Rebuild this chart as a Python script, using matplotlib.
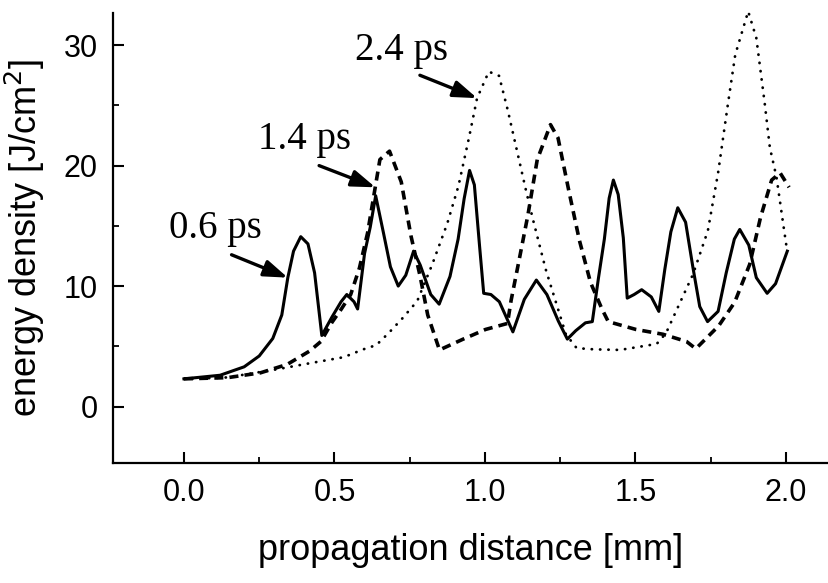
import numpy as np
import matplotlib
matplotlib.use('Agg')
import matplotlib.pyplot as plt
from matplotlib.ticker import FormatStrFormatter, MultipleLocator

# energy density along the propagation distance for three pulse durations
x_06 = [0.00, 0.12, 0.20, 0.25, 0.295, 0.325, 0.345, 0.364, 0.388, 0.412, 0.434, 0.458,
        0.491, 0.522, 0.541, 0.565, 0.577, 0.600, 0.619, 0.637, 0.663, 0.686, 0.712,
        0.737, 0.763, 0.785, 0.820, 0.848, 0.884, 0.911, 0.931, 0.949, 0.965, 0.982,
        0.996, 1.02, 1.048, 1.093, 1.131, 1.171, 1.206, 1.244, 1.274, 1.302, 1.334,
        1.357, 1.377, 1.397, 1.413, 1.427, 1.443, 1.46, 1.473, 1.496, 1.521, 1.553,
        1.578, 1.598, 1.618, 1.641, 1.667, 1.691, 1.714, 1.74, 1.775, 1.802, 1.829,
        1.847, 1.877, 1.902, 1.938, 1.966, 2.005]
y_06 = [2.3, 2.6, 3.3, 4.2, 5.65, 7.6, 10.7, 12.9, 14.1, 13.5, 11.1, 5.9,
        7.4, 8.7, 9.3, 8.7, 8.1, 12.7, 14.9, 17.5, 14.4, 11.6, 10.0,
        10.9, 12.9, 11.75, 9.3, 8.5, 10.8, 13.9, 17.25, 19.6, 18.4, 13.4,
        9.4, 9.3, 8.7, 6.2, 8.9, 10.5, 9.3, 7.1, 5.6, 6.3, 6.95,
        7.05, 10.6, 13.9, 17.3, 18.8, 17.6, 14.0, 9.0, 9.3, 9.7, 9.1,
        7.9, 11.4, 14.5, 16.5, 15.3, 11.6, 8.3, 7.05, 7.9, 11.1, 13.9,
        14.7, 13.4, 10.7, 9.4, 10.2, 12.9]

x_14 = [0.00, 0.145, 0.254, 0.343, 0.417, 0.455, 0.492, 0.523, 0.554, 0.583, 0.61,
        0.651, 0.683, 0.722, 0.754, 0.784, 0.81, 0.849, 0.928, 1.002, 1.075, 1.087,
        1.114, 1.143, 1.174, 1.218, 1.243, 1.279, 1.314, 1.351, 1.389, 1.41, 1.502,
        1.592, 1.67, 1.701, 1.777, 1.83, 1.88, 1.916, 1.953, 1.981, 2.011]
y_14 = [2.3, 2.4, 2.8, 3.5, 4.6, 5.4, 7.0, 8.1, 9.3, 11.5, 14.4,
        20.5, 21.2, 18.65, 14.2, 10.9, 7.6, 4.7, 5.6, 6.4, 6.9, 8.8,
        12.2, 15.9, 20.5, 23.4, 22.3, 17.9, 13.8, 10.3, 8.1, 7.05, 6.4,
        6.0, 5.4, 4.8, 6.7, 8.65, 11.8, 15.7, 18.8, 19.4, 18.2]

x_24 = [0.00, 0.135, 0.188, 0.31, 0.419, 0.531, 0.596, 0.639, 0.68, 0.725, 0.775,
        0.825, 0.875, 0.912, 0.947, 0.974, 1.013, 1.047, 1.076, 1.106, 1.136, 1.16,
        1.202, 1.238, 1.269, 1.305, 1.362, 1.449, 1.571, 1.602, 1.692, 1.741, 1.775,
        1.807, 1.832, 1.875, 1.902, 1.93, 1.947, 1.969, 1.994, 2.004]
y_24 = [2.3, 2.4, 2.6, 3.1, 3.6, 4.1, 4.75, 5.1, 6.1, 7.3, 8.75,
        11.8, 15.2, 18.3, 22.3, 25.6, 27.8, 27.45, 24.6, 21.3, 18.0, 15.5,
        11.4, 8.5, 6.0, 4.85, 4.75, 4.7, 5.2, 6.1, 11.0, 14.6, 19.4,
        25.0, 29.2, 32.8, 30.6, 25.15, 21.5, 19.05, 14.7, 13.0]

x_ticks = [0.0, 0.5, 1.0, 1.5, 2.0]
y_ticks = [0, 10, 20, 30]

sans = 'Liberation Sans'
serif = 'Liberation Serif'

fig = plt.figure(figsize=(8.29, 5.83), dpi=100)
ax = fig.add_axes([0.1363, 0.2055, 0.8624, 0.7729])

ax.plot(x_06, y_06, color='black', lw=2.2, solid_joinstyle='round')
ax.plot(x_14, y_14, color='black', lw=2.6, linestyle=(0, (2.5, 1.7)))
ax.plot(x_24, y_24, color='black', lw=2.0, linestyle=(0, (0.1, 2.9)),
        dash_capstyle='round', clip_on=False)

ax.set_xlim(-0.236, 2.14)
ax.set_ylim(-4.7, 32.7)

for side in ['top', 'right']:
    ax.spines[side].set_visible(False)
for side in ['left', 'bottom']:
    ax.spines[side].set_linewidth(1.6)

ax.set_xticks(x_ticks)
ax.set_yticks(y_ticks)
ax.xaxis.set_minor_locator(MultipleLocator(0.25))
ax.yaxis.set_minor_locator(MultipleLocator(5))
ax.xaxis.set_major_formatter(FormatStrFormatter('%.1f'))
ax.tick_params(which='major', direction='in', length=8, width=1.5, labelsize=22, pad=11)
ax.tick_params(which='minor', direction='in', length=4.5, width=1.3)
for lab in ax.get_xticklabels() + ax.get_yticklabels():
    lab.set_family(sans)

ax.set_xlabel('propagation distance [mm]', fontsize=26, family=sans, labelpad=18)
ax.set_ylabel('energy density [J/cm$^2$]', fontsize=26, family=sans, labelpad=12)

arrow = dict(arrowstyle='-|>,head_length=0.8,head_width=0.28', mutation_scale=18,
             color='black', lw=2.4, shrinkA=0, shrinkB=0)
ax.annotate('', xy=(0.345, 10.7), xytext=(0.158, 12.6), arrowprops=arrow)
ax.annotate('', xy=(0.636, 18.2), xytext=(0.449, 20.0), arrowprops=arrow)
ax.annotate('', xy=(0.974, 25.6), xytext=(0.784, 27.5), arrowprops=arrow)

ax.text(-0.051, 14.0, '0.6 ps', fontsize=28, family=serif)
ax.text(0.247, 21.4, '1.4 ps', fontsize=28, family=serif)
ax.text(0.568, 28.8, '2.4 ps', fontsize=28, family=serif)

fig.savefig('out.png', dpi=100)
